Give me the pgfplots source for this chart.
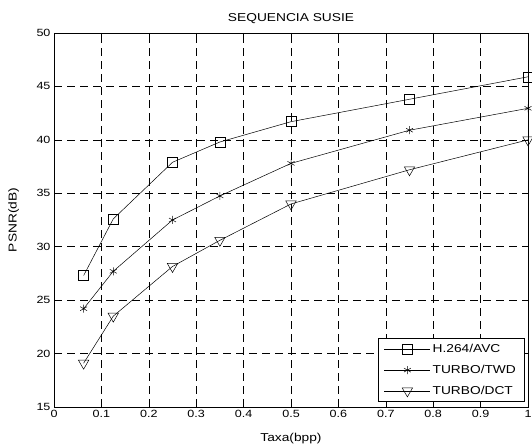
\documentclass[border=0pt]{standalone}
\usepackage{pgfplots}
\pgfplotsset{compat=1.18}
\usepackage{fontspec}
\setmainfont[FakeStretch=1.2]{Liberation Sans}
\begin{document}
\begin{tikzpicture}[x=1bp,y=1bp]
\path[use as bounding box] (-54,-38) rectangle (478,407);
\begin{axis}[
  at={(0,0)},anchor=south west,
  scale only axis,width=474bp,height=374bp,
  xmin=0,xmax=1,ymin=15,ymax=50,
  xtick={0,0.1,...,1},ytick={15,20,...,50},
  xticklabels={0,0.1,0.2,0.3,0.4,0.5,0.6,0.7,0.8,0.9,1},
  tick align=inside,tick pos=both,major tick length=4bp,
  grid=major,major grid style={black,dash pattern=on 8bp off 5bp,line width=0.6bp},
  axis line style={line width=0.7bp},
  tick style={black,line width=0.6bp},
  tick label style={font=\fontsize{10.5}{12}\selectfont},
  label style={font=\fontsize{11.5}{13}\selectfont},
  /pgf/number format/assume math mode=true,
  title={SEQUENCIA SUSIE},
  title style={font=\fontsize{11.5}{13}\selectfont,at={(axis description cs:0.5,1)},anchor=base,yshift=6bp},
  xlabel={Taxa(bpp)},ylabel={PSNR(dB)},
  xlabel style={at={(axis description cs:0.5,0)},anchor=base,yshift=-35bp},
  ylabel style={at={(axis description cs:-0.085,0.5)},anchor=center},
  legend style={at={(0.992,0.013)},anchor=south east,draw=black,line width=0.7bp,
    font=\fontsize{11.5}{13}\selectfont,row sep=7bp,inner xsep=6bp,inner ysep=4bp},
  legend cell align=left,
  legend image code/.code={\draw[mark repeat=2,mark phase=2,#1] plot coordinates {(0bp,0bp) (23bp,0bp) (46bp,0bp)};},
  every axis plot/.append style={black,line width=0.5bp,mark options={solid,line width=0.5bp}},
]
\addplot[mark=square,mark size=5bp] coordinates {(0.0625,27.3)(0.125,32.6)(0.25,37.9)(0.35,39.8)(0.5,41.7)(0.75,43.8)(1,45.9)};
\addplot[mark=asterisk,mark size=4bp] coordinates {(0.0625,24.2)(0.125,27.7)(0.25,32.5)(0.35,34.75)(0.5,37.8)(0.75,40.9)(1,42.95)};
\addplot[mark=triangle,mark size=6bp,mark options={rotate=180}] coordinates {(0.0625,19.1)(0.125,23.5)(0.25,28.15)(0.35,30.6)(0.5,34)(0.75,37.2)(1,40)};
\legend{H.264/AVC,TURBO/TWD,TURBO/DCT}
\end{axis}
\end{tikzpicture}
\end{document}
